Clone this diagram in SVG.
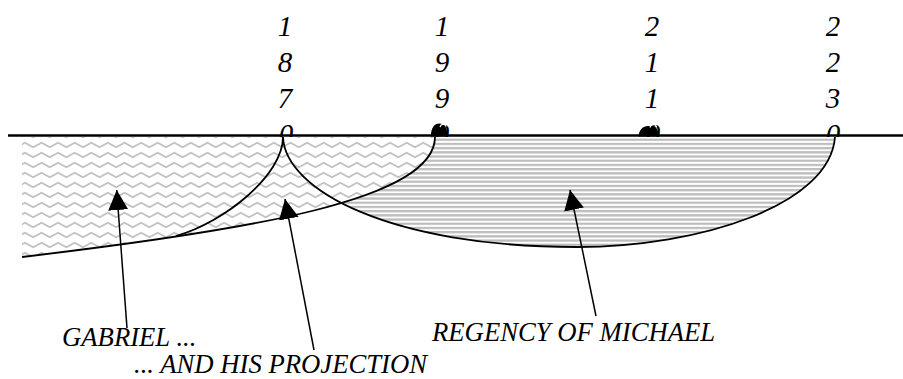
<svg xmlns="http://www.w3.org/2000/svg" width="903" height="379" viewBox="0 0 903 379">
<style>
.yr{font-family:"Liberation Serif","Times New Roman",serif;font-style:italic;font-size:29px;fill:#000;text-anchor:middle}
.lbl{font-family:"Liberation Serif","Times New Roman",serif;font-style:italic;font-size:26.7px;fill:#000}
.curve{fill:none;stroke:#000;stroke-width:1.8}
.arrow{fill:none;stroke:#000;stroke-width:1.5;marker-end:url(#head)}
.blob{fill:#000}
.hl{fill:none;stroke:#fff;stroke-width:1.2}
</style>
<defs>
<pattern id="wave" patternUnits="userSpaceOnUse" width="16.6" height="10">
<rect width="16.6" height="10" fill="#fff"/>
<path d="M-0.5,7.6 L8.3,2.8 L17.1,7.6" fill="none" stroke="#c0c0c0" stroke-width="1.7"/>
</pattern>
<pattern id="stripes" patternUnits="userSpaceOnUse" width="10" height="4.2">
<rect width="10" height="4.2" fill="#fff"/>
<rect y="0" width="10" height="2.3" fill="#bdbdbd"/>
</pattern>
<marker id="head" markerUnits="userSpaceOnUse" markerWidth="20" markerHeight="20" refX="20" refY="10" orient="auto" viewBox="0 0 20 20">
<path d="M0,0 L20,10 L0,20 Z" fill="#000"/>
</marker>
</defs>

<g id="years">
<text class="yr" x="285" y="36">1</text><text class="yr" x="285" y="72">8</text><text class="yr" x="285" y="108">7</text><text class="yr" x="286" y="144">0</text>
<text class="yr" x="442" y="36">1</text><text class="yr" x="442" y="72">9</text><text class="yr" x="442" y="108">9</text><text class="yr" x="442" y="144">0</text>
<text class="yr" x="652" y="36">2</text><text class="yr" x="652" y="72">1</text><text class="yr" x="652" y="108">1</text><text class="yr" x="653" y="144">0</text>
<text class="yr" x="833" y="36">2</text><text class="yr" x="833" y="72">2</text><text class="yr" x="833" y="108">3</text><text class="yr" x="833" y="144">0</text>
</g>

<rect x="0" y="137" width="903" height="14" fill="#fff"/>

<g id="michael-region">
<path d="M283,137 C285,190 390,247 577,247 C700,247 830,205 835,137 Z" fill="url(#stripes)"/>
</g>
<g id="gabriel-region">
<path d="M22,137 H435 C435,200 250,230 22,257 Z" fill="url(#wave)"/>
</g>

<g id="connectors">
<path class="curve" d="M283,137 C285,190 390,247 577,247 C700,247 830,205 835,137"/>
<path class="curve" d="M22,257 C250,230 435,200 435,137"/>
<path class="curve" d="M283,137 C283,175 225,222 176,236"/>
<line x1="8" y1="135.5" x2="903" y2="135.5" stroke="#000" stroke-width="2.3"/>
<path class="arrow" d="M127,328 L116.7,190"/>
<path class="arrow" d="M314,350 L285,199"/>
<path class="arrow" d="M596,316 L570,190"/>
</g>

<g id="blobs">
<path class="blob" d="M431,136.5 C430.5,128 434.5,123.5 439.5,123.5 C444.5,123.5 447.5,128 447.5,136.5 Z"/>
<path class="hl" d="M440,127 C441,123.5 445,123 446,126.5"/>
<path class="blob" d="M638.5,136.5 C639,130 643,126 648,126 C651,126 653,125 655.5,127 C658,129.5 658.5,133 658.5,136.5 Z"/>
<path class="hl" d="M650,127.5 C651,123.5 655.5,123.5 656.5,127"/>
</g>

<g id="labels">
<text class="lbl" x="62" y="346">GABRIEL ...</text>
<text class="lbl" x="134" y="373">... AND HIS PROJECTION</text>
<text class="lbl" x="432" y="340.5">REGENCY OF MICHAEL</text>
</g>
</svg>
